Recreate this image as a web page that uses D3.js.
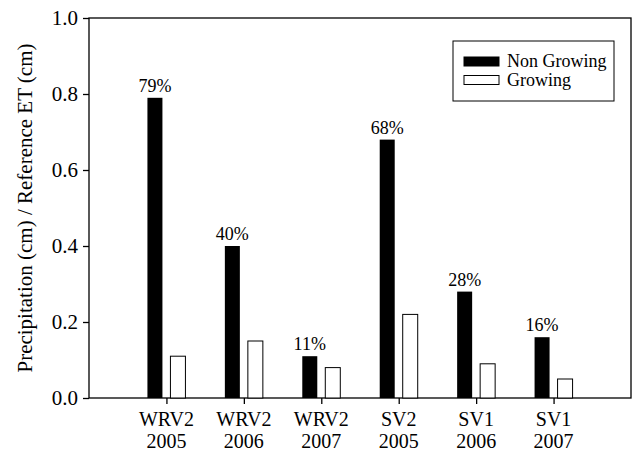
<!DOCTYPE html>
<html>
<head>
<meta charset="utf-8">
<script src="https://cdn.jsdelivr.net/npm/d3@7/dist/d3.min.js"></script>
<style>
  html, body { margin: 0; padding: 0; background: #fff; }
  svg { display: block; }
  svg text { font-family: "Liberation Serif", "Times New Roman", Times, "DejaVu Serif", serif; fill: #000; }
</style>
</head>
<body>
<svg id="chart" width="634" height="453"></svg>
<script>
// Site / year groups
const sites = ["WRV2", "WRV2", "WRV2", "SV2", "SV1", "SV1"];
const years = ["2005", "2006", "2007", "2005", "2006", "2007"];
// Precipitation / reference ET ratios
const nonGrowing = [0.79, 0.40, 0.11, 0.68, 0.28, 0.16];
const growing = [0.11, 0.15, 0.08, 0.22, 0.09, 0.05];
const yTicks = [0.0, 0.2, 0.4, 0.6, 0.8, 1.0];

const FONT = '"Liberation Serif", "Times New Roman", Times, "DejaVu Serif", serif';

const svg = d3.select("#chart");
const margin = { left: 89, right: 3, top: 18, bottom: 55 };
const W = 634, H = 453;
const plotW = W - margin.left - margin.right;
const plotH = H - margin.top - margin.bottom;

const g = svg.append("g").attr("transform", `translate(${margin.left},${margin.top})`);

// groups sit at positions 1..6 on a 0..7 axis
const x = d3.scaleLinear().domain([0, 7]).range([0, plotW]);
const y = d3.scaleLinear().domain([0, 1]).range([plotH, 0]);

const barW = 15, offset = 11.5;
const groups = sites.map((s, i) => ({ i, site: s, year: years[i], ng: nonGrowing[i], gr: growing[i] }));

// frame
g.append("rect").attr("x", 0).attr("y", 0).attr("width", plotW).attr("height", plotH)
  .attr("fill", "none").attr("stroke", "#000").attr("stroke-width", 1.3);

// non growing bars
g.selectAll("rect.ng").data(groups).enter().append("rect")
  .attr("class", "ng")
  .attr("x", d => x(d.i + 1) - offset - barW / 2)
  .attr("y", d => y(d.ng))
  .attr("width", barW)
  .attr("height", d => y(0) - y(d.ng))
  .attr("fill", "#000");

// growing bars
g.selectAll("rect.gr").data(groups).enter().append("rect")
  .attr("class", "gr")
  .attr("x", d => x(d.i + 1) + offset - barW / 2)
  .attr("y", d => y(d.gr))
  .attr("width", barW)
  .attr("height", d => y(0) - y(d.gr))
  .attr("fill", "#fff").attr("stroke", "#000").attr("stroke-width", 1);

// percentage labels over the non growing bars
g.selectAll("text.pct").data(groups).enter().append("text")
  .attr("class", "pct")
  .attr("x", d => x(d.i + 1) - offset)
  .attr("y", d => y(d.ng) - 6)
  .attr("text-anchor", "middle")
  .style("font-family", FONT)
  .attr("font-size", 18)
  .text(d => Math.round(d.ng * 100) + "%");

// y axis
const yAxis = g.append("g").call(
  d3.axisLeft(y).tickValues(yTicks).tickSize(6).tickPadding(5).tickFormat(d3.format(".1f"))
);
yAxis.attr("font-family", null).style("font-family", FONT);
yAxis.select(".domain").remove();
yAxis.selectAll("line").attr("stroke-width", 1.3);
yAxis.selectAll("text").attr("font-size", 21).style("font-family", FONT);

// x axis
const xAxis = g.append("g").attr("transform", `translate(0,${plotH})`).call(
  d3.axisBottom(x).tickValues(groups.map(d => d.i + 1)).tickSize(6).tickFormat("")
);
xAxis.select(".domain").remove();
xAxis.selectAll("line").attr("stroke-width", 1.3);

const xl = g.append("g").selectAll("text.xl").data(groups).enter().append("text")
  .attr("class", "xl")
  .attr("text-anchor", "middle")
  .attr("font-size", 20)
  .style("font-family", FONT)
  .attr("transform", d => `translate(${x(d.i + 1)},${plotH})`);
xl.append("tspan").attr("x", 0).attr("y", 28).text(d => d.site);
xl.append("tspan").attr("x", 0).attr("y", 50).text(d => d.year);

// y axis title
svg.append("text")
  .attr("transform", "translate(32,208) rotate(-90)")
  .attr("text-anchor", "middle")
  .attr("font-size", 21)
  .style("font-family", FONT)
  .text("Precipitation (cm) / Reference ET (cm)");

// legend
const lg = svg.append("g").attr("transform", "translate(453,41)");
lg.append("rect").attr("width", 161).attr("height", 60)
  .attr("fill", "#fff").attr("stroke", "#000").attr("stroke-width", 1);
const legendItems = [
  { label: "Non Growing", fill: "#000" },
  { label: "Growing", fill: "#fff" }
];
const li = lg.selectAll("g.li").data(legendItems).enter().append("g")
  .attr("transform", (d, i) => `translate(11,${16 + i * 18.5})`);
li.append("rect").attr("width", 35).attr("height", 9)
  .attr("fill", d => d.fill).attr("stroke", "#000").attr("stroke-width", 1);
li.append("text").attr("x", 43).attr("y", 10).attr("font-size", 18)
  .style("font-family", FONT).text(d => d.label);
</script>
</body>
</html>
